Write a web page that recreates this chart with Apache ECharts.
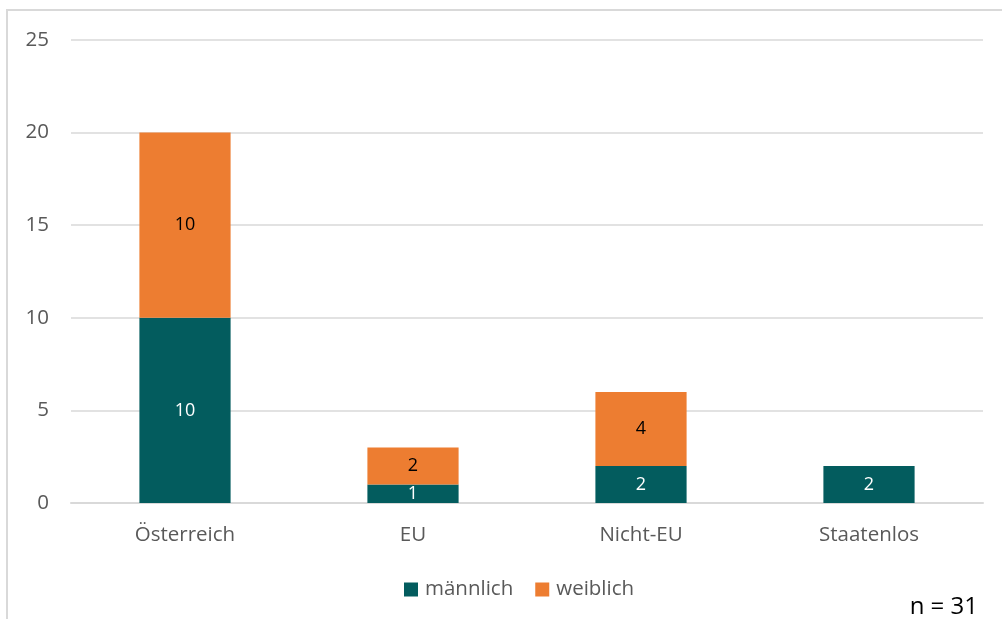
<!DOCTYPE html>
<html>
<head>
<meta charset="utf-8">
<script src="https://cdn.jsdelivr.net/npm/echarts@6/dist/echarts.min.js"></script>
<style>
  html, body { margin: 0; padding: 0; background: #fff; }
  #chart { width: 1002px; height: 619px; }
</style>
</head>
<body>
<div id="chart"></div>
<script>
const categories = ["Österreich", "EU", "Nicht-EU", "Staatenlos"];
const maennlich = [10, 1, 2, 2];
const weiblich = [10, 2, 4, 0];
const yTicks = [0, 5, 10, 15, 20, 25];

const chart = echarts.init(document.getElementById("chart"));
const font = "'Open Sans', 'Noto Sans', sans-serif";

chart.setOption({
  animation: false,
  textStyle: { fontFamily: font },
  grid: { left: 71, right: 19, top: 40, bottom: 116 },
  legend: {
    data: ["männlich", "weiblich"],
    bottom: 14,
    left: 399,
    icon: "rect",
    itemWidth: 14,
    itemHeight: 14,
    itemGap: 22,
    textStyle: { color: "#595959", fontSize: 20.5, fontFamily: font, padding: [0, 0, 0, 2] }
  },
  xAxis: {
    type: "category",
    data: categories,
    axisLine: { lineStyle: { color: "#d9d9d9", width: 2 } },
    axisTick: { show: false },
    axisLabel: { color: "#595959", fontSize: 20.5, margin: 22, fontFamily: font }
  },
  yAxis: {
    type: "value",
    min: yTicks[0],
    max: yTicks[yTicks.length - 1],
    interval: 5,
    axisLine: { show: false },
    axisTick: { show: false },
    splitLine: { lineStyle: { color: "#d9d9d9", width: 1.5 } },
    axisLabel: { color: "#595959", fontSize: 20.5, margin: 22, fontFamily: font }
  },
  series: [
    {
      name: "männlich",
      type: "bar",
      stack: "total",
      barWidth: "40%",
      data: maennlich,
      itemStyle: { color: "#035c5e" },
      label: {
        show: true,
        position: "inside",
        color: "#ffffff",
        fontSize: 18,
        fontFamily: font,
        formatter: p => (p.value ? p.value : "")
      }
    },
    {
      name: "weiblich",
      type: "bar",
      stack: "total",
      barWidth: "40%",
      data: weiblich,
      itemStyle: { color: "#ed7d31" },
      label: {
        show: true,
        position: "inside",
        color: "#000000",
        fontSize: 18,
        fontFamily: font,
        formatter: p => (p.value ? p.value : "")
      }
    }
  ],
  graphic: [
    {
      type: "rect",
      shape: { x: 7, y: 10, width: 1100, height: 700 },
      style: { fill: "none", stroke: "#d9d9d9", lineWidth: 2 },
      silent: true
    },
    {
      type: "text",
      right: 24,
      bottom: 0,
      style: { text: "n = 31", fill: "#000000", font: "24px " + font }
    }
  ]
});
</script>
</body>
</html>
